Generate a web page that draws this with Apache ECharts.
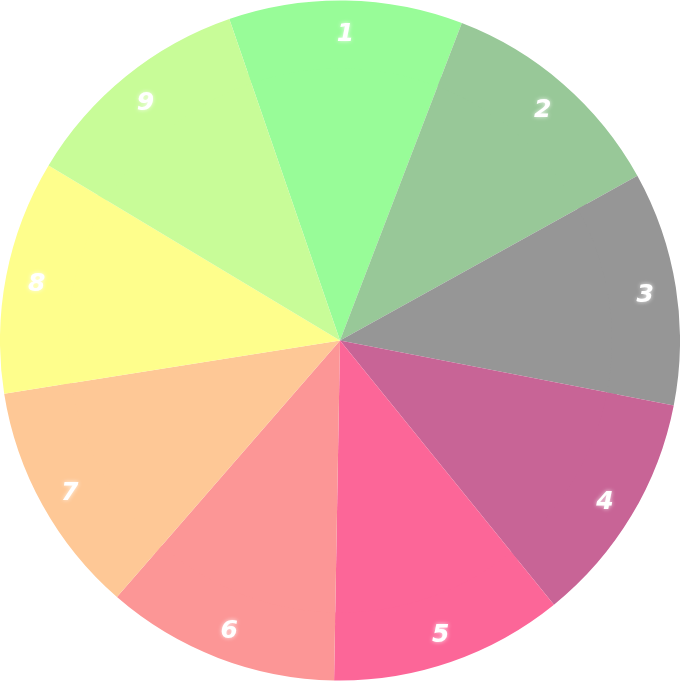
<!DOCTYPE html>
<html>
<head>
<meta charset="utf-8">
<script src="https://cdn.jsdelivr.net/npm/echarts@6/dist/echarts.min.js"></script>
<style>html,body{margin:0;padding:0;background:#fff;}#main{width:680px;height:681px;}</style>
</head>
<body>
<div id="main"></div>
<script>
const categories = ['1','2','3','4','5','6','7','8','9'];
const values = [1,1,1,1,1,1,1,1,1];
const colors = ['#98fc98','#98c898','#969696','#c86496','#fc6698','#fc9696','#fec896','#fefe8c','#c8fc98'];

const data = categories.map((c, i) => ({ name: c, value: values[i], itemStyle: { color: colors[i] } }));

const chart = echarts.init(document.getElementById('main'));
chart.setOption({
  animation: false,
  series: [
    {
      type: 'pie',
      center: ['50%', '50%'],
      radius: [0, '83%'],
      startAngle: 109,
      clockwise: true,
      silent: true,
      label: { show: false },
      labelLine: { show: false },
      itemStyle: { borderWidth: 0 },
      data: data
    },
    {
      type: 'pie',
      center: ['50%', '50%'],
      radius: ['80%', '100%'],
      startAngle: 109,
      clockwise: true,
      silent: true,
      itemStyle: { borderWidth: 0 },
      label: {
        show: true,
        position: 'inside',
        formatter: '{b}',
        offset: [0, 3],
        color: '#ffffff',
        fontSize: 25,
        fontStyle: 'italic',
        fontWeight: 'bold',
        fontFamily: 'DejaVu Sans',
        textShadowColor: 'rgba(255,255,255,0.8)',
        textShadowBlur: 4
      },
      labelLine: { show: false },
      data: data
    }
  ]
});
</script>
</body>
</html>
